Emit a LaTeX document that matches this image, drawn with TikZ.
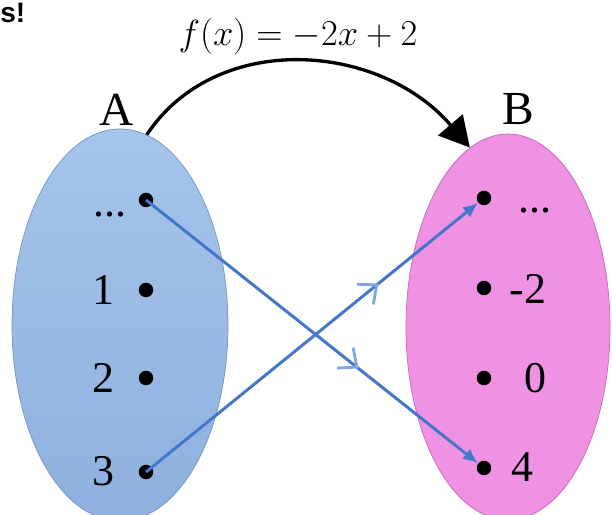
\documentclass[tikz,border=0pt]{standalone}
\usepackage{fontspec}
\setmainfont{Liberation Serif}
\newfontfamily\cornerfont{Liberation Sans}
\usepackage{xcolor}
\usetikzlibrary{shapes.geometric,arrows.meta,decorations.markings}
\definecolor{setatop}{RGB}{166,197,236}
\definecolor{setabot}{RGB}{142,176,222}
\definecolor{setaline}{RGB}{118,148,192}
\definecolor{setbpink}{RGB}{240,146,228}
\definecolor{setbline}{RGB}{196,104,186}
\definecolor{mapblue}{RGB}{70,118,200}
\definecolor{chevblue}{RGB}{128,164,226}

\tikzset{
  dot/.style={circle,fill=black,inner sep=0pt,minimum size=2.9mm},
  elem/.style={font=\fontsize{25}{28}\selectfont},
  setlabel/.style={font=\fontsize{27}{30}\selectfont,anchor=base},
  maparrow/.style={mapblue,line width=1.7pt,-{Latex[length=3mm,width=2.6mm]},
    postaction={decorate},
    decoration={markings,mark=at position #1 with
      {\arrow[chevblue,line width=1.6pt]{Straight Barb[length=3mm,width=5.2mm]}}}}
}

\begin{document}
\begin{tikzpicture}[x=0.2mm,y=-0.2mm]
  \useasboundingbox (0,0) rectangle (612,515);
  \node[font=\cornerfont\bfseries\fontsize{16}{19}\selectfont,anchor=base west,inner sep=0pt] (corner) at (0,23) {s!};

  % the two sets
  \node[ellipse,draw=setaline,thin,top color=setatop,bottom color=setabot,
    minimum width=43.2mm,minimum height=78.4mm] (A) at (120,325) {};
  \node[ellipse,draw=setbline,thin,fill=setbpink,
    minimum width=40.8mm,minimum height=77.2mm] (B) at (508,327) {};
  \node[setlabel] (Alab) at (117,126) {A};
  \node[setlabel] (Blab) at (518,125) {B};

  % the rule
  \node[font=\fontsize{22.5}{26}\selectfont] (rule) at (298,36) {$f(x)=-2x+2$};
  \draw[black,line width=1.9pt,-{Triangle[length=6mm,width=6.4mm]}]
    (A.82) .. controls +(70,-105) and +(-90,-105) .. (B.102);

  % elements of A
  \node[dot] (a0) at (146,200) {};
  \node[dot] (a1) at (146,290) {};
  \node[dot] (a2) at (146,378) {};
  \node[dot] (a3) at (146,472) {};
  \node[elem,anchor=base] (la0) at (110,217) {...};
  \node[elem] (la1) at (103,290) {1};
  \node[elem] (la2) at (103,378) {2};
  \node[elem] (la3) at (103,471) {3};

  % elements of B
  \node[dot] (b0) at (484,198) {};
  \node[dot] (b1) at (484,288) {};
  \node[dot] (b2) at (484,378) {};
  \node[dot] (b3) at (484,468) {};
  \node[elem,anchor=base] (lb0) at (535,213) {...};
  \node[elem] (lb1) at (528,289) {-2};
  \node[elem] (lb2) at (535,378) {0};
  \node[elem] (lb3) at (522,467) {4};

  % the mapping
  \draw[maparrow=0.64] (a0.center) -- (b3);
  \draw[maparrow=0.70] (a3.center) -- (b0);
\end{tikzpicture}
\end{document}
